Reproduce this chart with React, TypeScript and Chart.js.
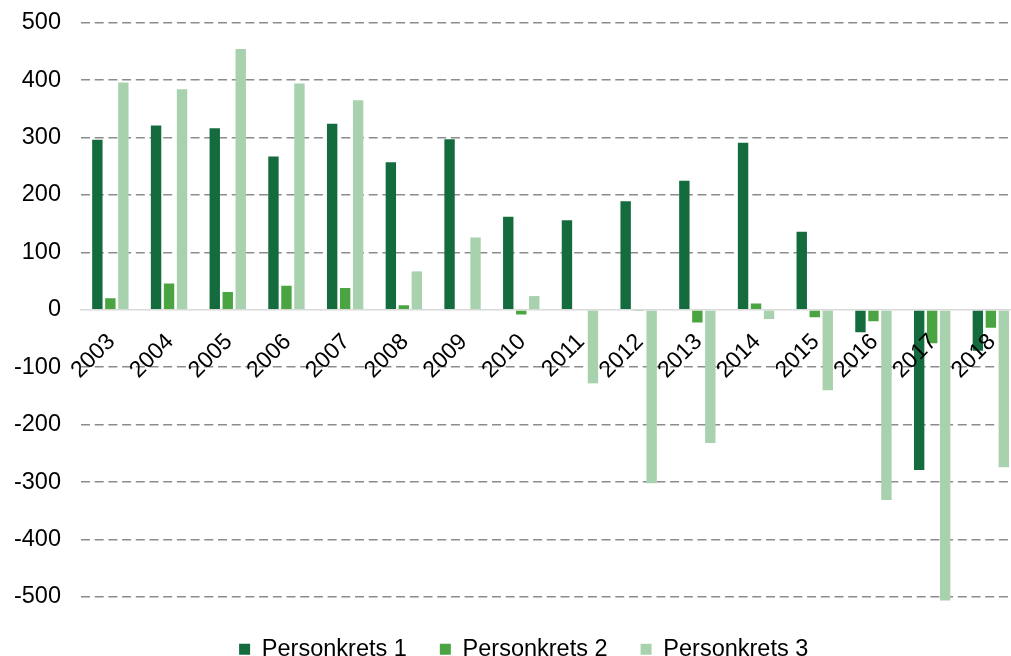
import React, { useEffect, useRef } from "react";
import { Chart, registerables } from "chart.js";

Chart.register(...registerables);

const years = ["2003", "2004", "2005", "2006", "2007", "2008", "2009", "2010", "2011", "2012", "2013", "2014", "2015", "2016", "2017", "2018"];
const personkrets1 = [296, 321, 316, 267, 324, 257, 297, 162, 156, 189, 225, 291, 136, -39, -279, -71];
const personkrets2 = [20, 46, 31, 42, 38, 8, 0, -8, 0, -2, -22, 11, -13, -20, -58, -31];
const personkrets3 = [396, 384, 454, 394, 365, 67, 126, 24, -128, -302, -232, -16, -140, -331, -506, -274];
const seriesLabels = ["Personkrets 1", "Personkrets 2", "Personkrets 3"];
const seriesColors = ["#146c3e", "#4aa441", "#a8d2ad"];

export default function App() {
  const ref = useRef<HTMLCanvasElement | null>(null);

  useEffect(() => {
    if (!ref.current) return;
    const font = "'Liberation Sans', Arial, sans-serif";
    Chart.defaults.font.family = font;
    const chart = new Chart(ref.current, {
      type: "bar",
      data: {
        labels: years,
        datasets: [personkrets1, personkrets2, personkrets3].map((d, i) => ({
          label: seriesLabels[i],
          data: d,
          backgroundColor: seriesColors[i],
          borderWidth: 0,
          categoryPercentage: 0.664,
          barPercentage: 0.8,
          clip: i === 2 ? false : undefined,
        })) as any,
      },
      options: {
        responsive: false,
        animation: false,
        events: [],
        layout: { padding: { left: 0, right: 0.6, top: 22.7, bottom: 0 } },
        plugins: {
          tooltip: { enabled: false },
          legend: {
            position: "bottom",
            title: { display: true, text: "", font: { size: 2, lineHeight: 1 }, padding: { top: 5.5, bottom: 0 } },
            labels: {
              boxWidth: 11,
              boxHeight: 11,
              padding: 33,
              color: "#000",
              font: { size: 23.5, family: font },
            },
          },
        },
        scales: {
          x: {
            position: { y: 0 } as any,
            grid: { display: false, drawTicks: false },
            border: { display: true, color: "#d9d9d9", width: 1.5 },
            ticks: {
              z: 1,
              minRotation: 45,
              maxRotation: 45,
              autoSkip: false,
              padding: 18.6,
              labelOffset: 1.1,
              color: "#000",
              font: { size: 23, family: font },
            },
          },
          y: {
            min: -500,
            max: 500,
            afterFit: (scale: any) => {
              scale.width = 81;
            },
            border: { display: false, dash: [9, 4.7] },
            grid: {
              drawTicks: true,
              tickLength: 20,
              tickColor: "rgba(0,0,0,0)",
              color: (ctx: any) => (ctx.tick && ctx.tick.value === 0 ? "rgba(0,0,0,0)" : "#8c8c8c"),
              lineWidth: 1.6,
            },
            ticks: {
              stepSize: 100,
              padding: 0,
              color: "#000",
              font: { size: 23.5, family: font },
            },
          },
          yRight: {
            type: "linear",
            position: "right",
            afterFit: (scale: any) => {
              scale.width = 27.2;
            },
            ticks: { display: false },
            grid: { display: false, drawTicks: false },
            border: { display: false },
          },
        },
      },
    } as any);
    return () => chart.destroy();
  }, []);

  return (
    <div style={{ position: "fixed", left: 0, top: 0, width: 1011, height: 656, overflow: "hidden", background: "#fff" }}>
      <canvas ref={ref} width={1048} height={671.5} style={{ display: "block" }} />
    </div>
  );
}
